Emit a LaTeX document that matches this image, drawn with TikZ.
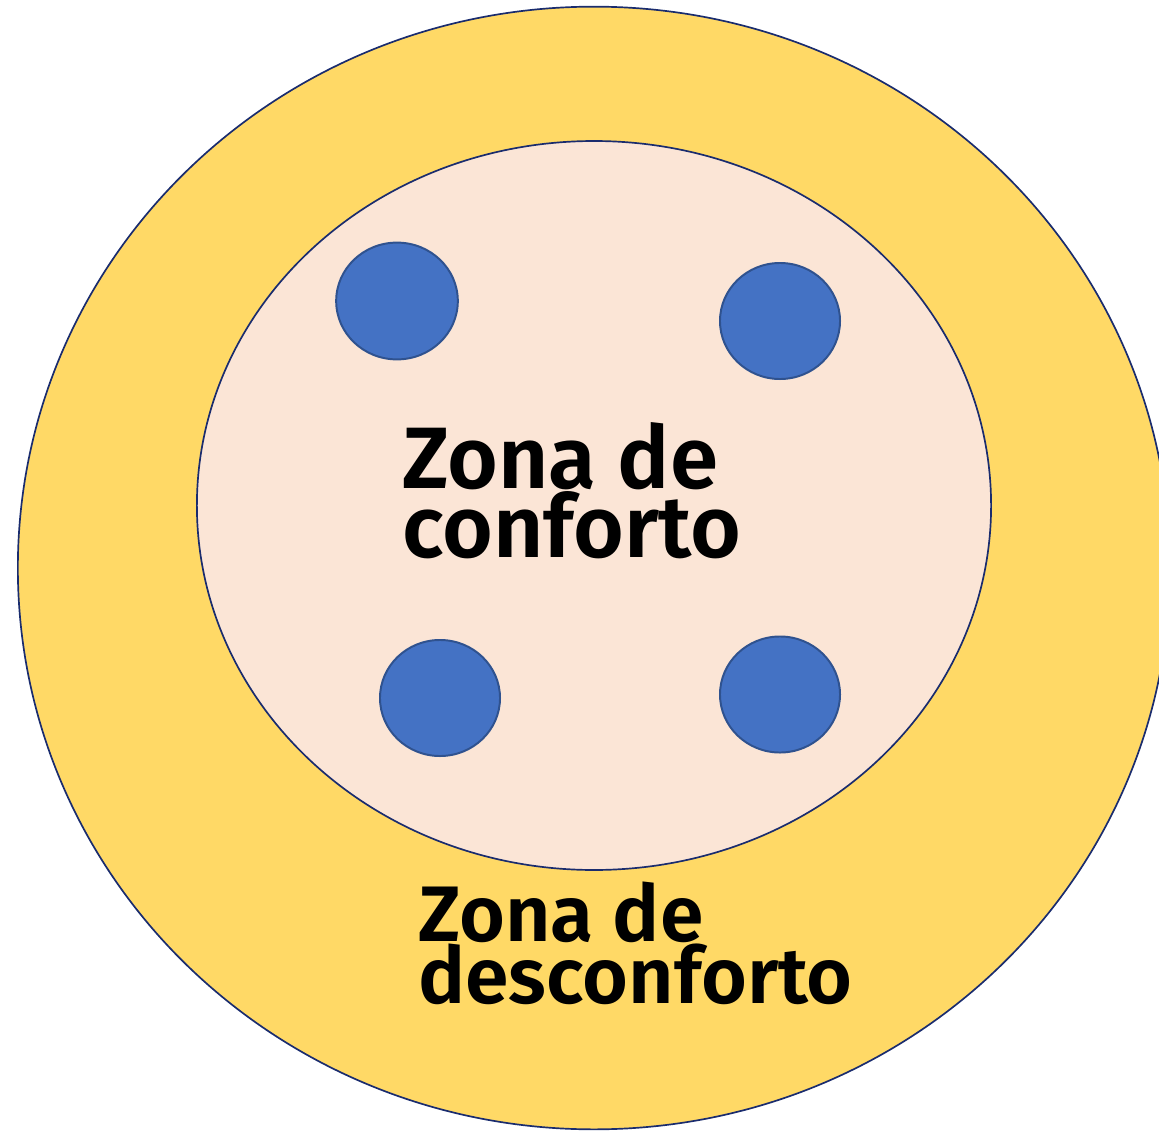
\documentclass[tikz,border=0pt]{standalone}
\usepackage{fontspec}
\setmainfont{Fira Sans}[BoldFont={Fira Sans SemiBold}]
\definecolor{zonayellow}{HTML}{FFD966}
\definecolor{zonapeach}{HTML}{FBE5D6}
\definecolor{dotblue}{HTML}{4472C4}
\definecolor{dotedge}{HTML}{2F528F}
\definecolor{rimnavy}{HTML}{1A2C6E}
\begin{document}
\begin{tikzpicture}[x=0.025cm, y=-0.025cm,
    rim/.style={draw=rimnavy, line width=1.2pt},
    dot/.style={fill=dotblue, draw=dotedge, line width=1.4pt},
    zonelabel/.style={anchor=base west, align=left, inner sep=0pt, text=black}]

    \useasboundingbox (0,0) rectangle (1159,1131);
    \begin{scope}
        \clip (0,0) rectangle (1159,1131);

        % === Zona de desconforto ===
        \draw[rim, fill=zonayellow] (594,568) ellipse [x radius=14.4cm, y radius=14.03cm];

        % === Zona de conforto ===
        \draw[rim, fill=zonapeach] (594,505.5) ellipse [x radius=9.925cm, y radius=9.11cm];
    \end{scope}

    % pontos
    \draw[dot] (397,301) ellipse [x radius=1.52cm, y radius=1.46cm];
    \draw[dot] (780,321) ellipse [x radius=1.5cm, y radius=1.45cm];
    \draw[dot] (440,698) ellipse [x radius=1.5cm, y radius=1.45cm];
    \draw[dot] (780,694.5) ellipse [x radius=1.5cm, y radius=1.45cm];

    % textos
    \node[zonelabel, font=\fontsize{62}{49}\selectfont\bfseries] (conforto) at (402,557) {Zona de\\conforto};
    \node[zonelabel, font=\fontsize{56}{43.4}\selectfont\bfseries] (desconforto) at (418,1003) {Zona de\\desconforto};

\end{tikzpicture}
\end{document}
